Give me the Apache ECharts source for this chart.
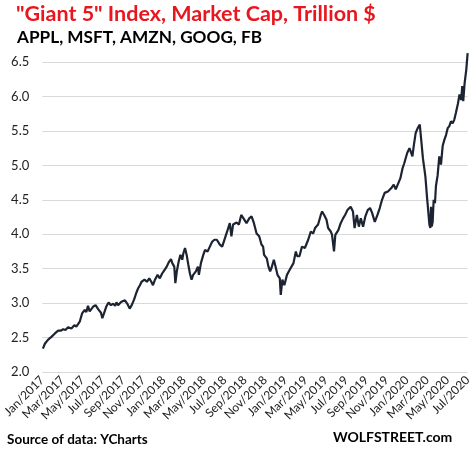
<!DOCTYPE html>
<html>
<head>
<meta charset="utf-8">
<script src="https://cdn.jsdelivr.net/npm/echarts@6/dist/echarts.min.js"></script>
<style>
html,body{margin:0;padding:0;background:#fff;}
#chart{width:474px;height:458px;}
</style>
</head>
<body>
<div id="chart"></div>
<script>
const dates = [
'2017-01-03','2017-01-09','2017-01-14','2017-01-19','2017-01-29','2017-02-08','2017-02-17','2017-02-24',
'2017-03-03','2017-03-10','2017-03-18','2017-03-28','2017-04-06','2017-04-12','2017-04-22','2017-04-29',
'2017-05-07','2017-05-12','2017-05-17','2017-05-22','2017-06-02','2017-06-09','2017-06-17','2017-06-25',
'2017-06-29','2017-07-04','2017-07-11','2017-07-18','2017-07-25','2017-08-01','2017-08-07','2017-08-11',
'2017-08-16','2017-08-26','2017-09-06','2017-09-13','2017-09-20','2017-09-26','2017-10-03','2017-10-10',
'2017-10-16','2017-10-21','2017-10-26','2017-11-04','2017-11-11','2017-11-18','2017-11-24','2017-11-29',
'2017-12-05','2017-12-13','2017-12-20','2017-12-27','2018-01-03','2018-01-10','2018-01-17','2018-01-23',
'2018-01-27','2018-02-02','2018-02-05','2018-02-09','2018-02-14','2018-02-19','2018-02-24','2018-02-27',
'2018-03-04','2018-03-09','2018-03-14','2018-03-19','2018-03-24','2018-03-29','2018-04-06','2018-04-12',
'2018-04-15','2018-04-21','2018-04-28','2018-05-03','2018-05-11','2018-05-18','2018-05-25','2018-06-01',
'2018-06-08','2018-06-17','2018-06-24','2018-07-02','2018-07-09','2018-07-17','2018-07-22','2018-07-27',
'2018-08-07','2018-08-14','2018-08-21','2018-08-28','2018-09-06','2018-09-14','2018-09-21','2018-09-28',
'2018-10-06','2018-10-14','2018-10-21','2018-10-26','2018-10-29','2018-11-06','2018-11-11','2018-11-16',
'2018-11-20','2018-11-27','2018-12-02','2018-12-08','2018-12-15','2018-12-18','2018-12-23','2018-12-29',
'2019-01-06','2019-01-14','2019-01-19','2019-01-26','2019-02-02','2019-02-06','2019-02-12','2019-02-19',
'2019-02-27','2019-03-09','2019-03-17','2019-03-24','2019-03-30','2019-04-08','2019-04-16','2019-04-20',
'2019-04-26','2019-05-03','2019-05-08','2019-05-16','2019-05-20','2019-05-26','2019-05-30','2019-06-08',
'2019-06-15','2019-06-22','2019-06-28','2019-07-05','2019-07-10','2019-07-15','2019-07-22','2019-07-27',
'2019-08-03','2019-08-09','2019-08-15','2019-08-22','2019-08-29','2019-09-05','2019-09-12','2019-09-18',
'2019-09-26','2019-10-04','2019-10-11','2019-10-18','2019-10-26','2019-11-05','2019-11-15','2019-11-22',
'2019-11-28','2019-12-04','2019-12-12','2019-12-19','2019-12-24','2020-01-02','2020-01-09','2020-01-14',
'2020-01-18','2020-01-22','2020-01-28','2020-02-03','2020-02-09','2020-02-13','2020-02-18','2020-02-21',
'2020-02-25','2020-03-01','2020-03-05','2020-03-08','2020-03-11','2020-03-13','2020-03-15','2020-03-18',
'2020-03-21','2020-03-25','2020-03-28','2020-04-02','2020-04-07','2020-04-12','2020-04-17','2020-04-22',
'2020-04-27','2020-05-02','2020-05-07','2020-05-12','2020-05-17','2020-05-22','2020-05-27','2020-06-02',
'2020-06-07','2020-06-12','2020-06-15','2020-06-18','2020-06-22','2020-06-27','2020-07-01'
];
const marketCap = [
2.34,2.41,2.43,2.47,2.51,2.56,2.60,2.60,
2.62,2.61,2.65,2.63,2.68,2.66,2.73,2.85,
2.90,2.87,2.96,2.88,2.95,2.97,2.91,2.86,
2.78,2.85,2.95,3.01,2.97,2.99,2.96,3.01,
2.97,3.02,3.04,2.99,2.92,2.97,3.05,3.15,
3.22,3.26,3.31,3.34,3.31,3.36,3.31,3.26,
3.34,3.41,3.36,3.43,3.48,3.53,3.60,3.64,
3.58,3.53,3.29,3.46,3.60,3.70,3.63,3.72,
3.80,3.70,3.56,3.43,3.34,3.41,3.46,3.53,
3.41,3.58,3.70,3.77,3.75,3.82,3.89,3.92,
3.92,3.85,3.82,3.94,4.04,4.16,3.97,4.14,
4.17,4.14,4.28,4.23,4.16,4.23,4.26,4.16,
4.01,3.97,3.85,3.82,3.70,3.65,3.53,3.46,
3.51,3.63,3.53,3.41,3.36,3.12,3.34,3.26,
3.41,3.48,3.46,3.58,3.75,3.68,3.68,3.82,
3.80,3.92,4.04,4.01,4.09,4.14,4.28,4.33,
4.28,4.21,4.09,4.04,3.99,3.75,3.99,4.06,
4.16,4.23,4.28,4.35,4.33,4.40,4.33,4.09,
4.28,4.11,4.23,4.11,4.26,4.35,4.38,4.31,
4.18,4.28,4.38,4.50,4.60,4.62,4.67,4.72,
4.65,4.72,4.81,4.96,5.03,5.18,5.25,5.23,
5.13,5.28,5.47,5.54,5.59,5.57,5.10,5.08,
4.84,4.52,4.50,4.14,4.09,4.40,4.11,4.18,
4.50,4.45,4.70,4.85,5.13,5.01,5.28,5.37,
5.44,5.54,5.57,5.64,5.61,5.66,5.76,5.89,
6.03,5.95,6.15,5.93,6.19,6.39,6.63
];
const xTickLabels = ['Jan/2017','Mar/2017','May/2017','Jul/2017','Sep/2017','Nov/2017',
'Jan/2018','Mar/2018','May/2018','Jul/2018','Sep/2018','Nov/2018',
'Jan/2019','Mar/2019','May/2019','Jul/2019','Sep/2019','Nov/2019',
'Jan/2020','Mar/2020','May/2020','Jul/2020'];
const yMin = 2.0, yMax = 6.5, yStep = 0.5;

function monthOffset(s) {
  const p = s.split('-').map(Number);
  const dim = new Date(p[0], p[1], 0).getDate();
  return (p[0] - 2017) * 12 + (p[1] - 1) + (p[2] - 1) / dim;
}
const seriesData = dates.map((d, i) => [monthOffset(d), marketCap[i]]);

const chart = echarts.init(document.getElementById('chart'), null, {renderer: 'canvas'});
chart.setOption({
  backgroundColor: '#ffffff',
  animation: false,
  title: [
    {text: '"Giant 5" Index, Market Cap, Trillion $', left: 16, top: 3, padding: 0,
     textStyle: {color: '#e8161e', fontFamily: 'Lato', fontWeight: 'bold', fontSize: 21.5}},
    {text: 'APPL, MSFT, AMZN, GOOG, FB', left: 17, top: 29, padding: 0,
     textStyle: {color: '#000', fontFamily: 'Lato', fontWeight: 'bold', fontSize: 17.2}},
    {text: 'Source of data: YCharts', left: 7, top: 433, padding: 0,
     textStyle: {color: '#000', fontFamily: 'Lato', fontWeight: 'bold', fontSize: 13.5}},
    {text: 'WOLFSTREET.com', left: 333, top: 430, padding: 0,
     textStyle: {color: '#000', fontFamily: 'Lato', fontWeight: 'bold', fontSize: 14}}
  ],
  grid: {left: 42, right: 6, top: 62, bottom: 86},
  xAxis: {
    type: 'value', min: 0, max: 42, interval: 2,
    axisLine: {show: false}, axisTick: {show: false}, splitLine: {show: false},
    axisLabel: {
      rotate: 45, margin: 6, color: '#222', fontFamily: 'Lato', fontSize: 12,
      formatter: v => xTickLabels[Math.round(v / 2)] || ''
    }
  },
  yAxis: {
    type: 'value', min: yMin, max: yMax, interval: yStep,
    axisLine: {show: false}, axisTick: {show: false},
    splitLine: {lineStyle: {color: '#d9d9d9', width: 1}},
    axisLabel: {margin: 13, color: '#222', fontFamily: 'Lato', fontSize: 13,
      formatter: v => v.toFixed(1)}
  },
  series: [{
    type: 'line', data: seriesData, showSymbol: false, clip: false,
    lineStyle: {color: '#1c2331', width: 2.2}
  }]
});
</script>
</body>
</html>
